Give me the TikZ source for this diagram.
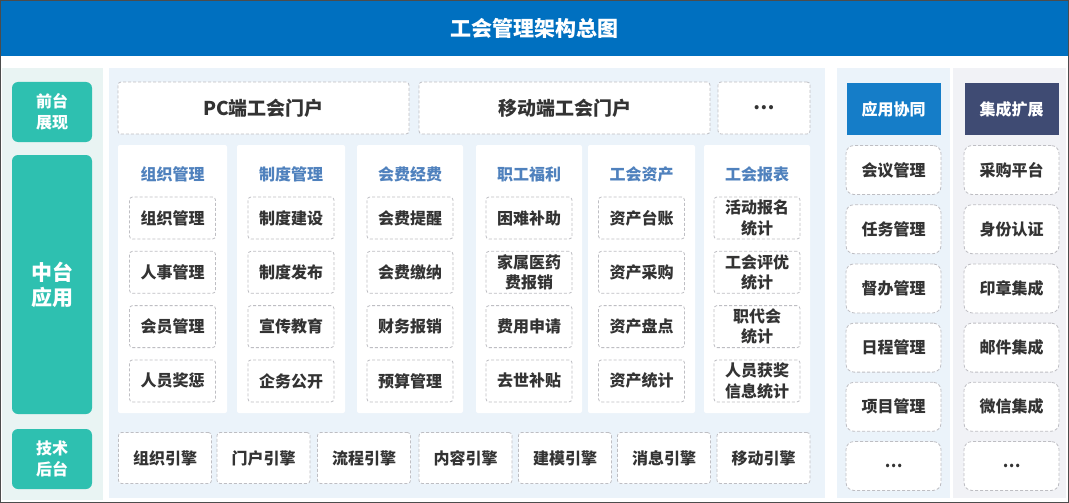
\documentclass[tikz,border=0pt]{standalone}
\usepackage{fontspec}
\setmainfont{Noto Sans CJK SC}
\usetikzlibrary{positioning}
\definecolor{titleblue}{RGB}{0,112,192}
\definecolor{tagteal}{RGB}{46,192,176}
\definecolor{leftbg}{RGB}{233,244,243}
\definecolor{mainbg}{RGB}{235,243,250}
\definecolor{sidebg}{RGB}{241,242,246}
\definecolor{headblue}{RGB}{79,129,189}
\definecolor{appblue}{RGB}{21,125,200}
\definecolor{extslate}{RGB}{63,75,115}
\definecolor{dashgray}{RGB}{190,190,195}
\definecolor{txt}{RGB}{51,51,51}

\begin{document}
\begin{tikzpicture}[x=1pt,y=-1pt,
    every node/.style={font=\bfseries, text=txt, inner sep=0pt},
    item/.style={draw=dashgray, fill=white, dash pattern=on 3pt off 2pt,
        line width=0.8pt, rounded corners=3pt, align=center,
        minimum width=86pt, minimum height=42pt,
        font=\bfseries\fontsize{16}{20.5}\selectfont},
    engine/.style={item, minimum width=93pt, minimum height=51pt,
        font=\bfseries\fontsize{16}{19}\selectfont},
    portal/.style={item, minimum height=52pt, font=\bfseries\fontsize{19}{22}\selectfont},
    sidebox/.style={item, minimum width=95pt, minimum height=49pt,
        rounded corners=8pt, font=\bfseries\fontsize{16}{19}\selectfont},
    card/.style={fill=white, rounded corners=2pt, minimum height=268pt},
    cardhead/.style={text=headblue, font=\bfseries\fontsize{16}{19}\selectfont},
    tag/.style={fill=tagteal, text=white, rounded corners=6pt, align=center,
        minimum width=80pt, font=\bfseries\fontsize{16}{21}\selectfont},
    sidehead/.style={text=white, minimum width=94pt, minimum height=52pt,
        font=\bfseries\fontsize{16}{19}\selectfont},
]
\useasboundingbox (0,0) rectangle (1069,503);
\fill[white] (0,0) rectangle (1069,503);

% title bar
\node[fill=titleblue, minimum width=1069pt, minimum height=56pt, text=white,
    font=\bfseries\fontsize{21}{24}\selectfont] (title) at (534.5,28) {工会管理架构总图};

% panels
\fill[leftbg] (2,68) rectangle (103,500);
\fill[mainbg] (109,68) rectangle (825,498);
\fill[mainbg] (837,68) rectangle (950,498);
\fill[sidebg] (953,68) rectangle (1066,498);

% layer tags
\node[tag, minimum height=60pt] (front) at (52,112) {前台\\展现};
\node[tag, minimum height=259pt, font=\bfseries\fontsize{21}{25}\selectfont] (middle) at (52,284.5) {中台\\应用};
\node[tag, minimum height=60pt] (back) at (52,459) {技术\\后台};

% portals
\node[portal, minimum width=291pt] (pc) at (263.5,108) {PC端工会门户};
\node[portal, minimum width=291pt] (mobile) at (564.5,108) {移动端工会门户};
\node[portal, minimum width=92pt] (more) at (764,108) {…};

% business columns
\foreach \cx/\cw/\hd/\lst [count=\i] in {
    172.5/109/组织管理/{组织管理,人事管理,会员管理,人员奖惩},
    291/108/制度管理/{制度建设,制度发布,宣传教育,企务公开},
    410/106/会费经费/{会费提醒,会费缴纳,财务报销,预算管理},
    529/106/职工福利/{困难补助,{家属医药\\费报销},费用申请,去世补贴},
    641.5/107/工会资产/{资产台账,资产采购,资产盘点,资产统计},
    757/106/工会报表/{{活动报名\\统计},{工会评优\\统计},{职代会\\统计},{人员获奖\\信息统计}}}{
  \node[card, minimum width=\cw pt] (card\i) at (\cx,279) {};
  \node[cardhead] (head\i) at (\cx,174) {\hd};
  \foreach \t [count=\j] in \lst
    \node[item] (item\i-\j) at (\cx,{163.7+54.3*\j}) {\t};
}

% engines
\foreach \cx/\t [count=\k] in {165/组织引擎,263.5/门户引擎,364/流程引擎,
    465.5/内容引擎,565/建模引擎,664/消息引擎,763.5/移动引擎}
  \node[engine] (eng\k) at (\cx,458) {\t};

% side columns
\node[sidehead, fill=appblue] (apphead) at (893.5,109) {应用协同};
\node[sidehead, fill=extslate] (exthead) at (1011.5,109) {集成扩展};
\foreach \t [count=\j] in {会议管理,任务管理,督办管理,日程管理,项目管理,…}
  \node[sidebox] (app\j) at (893.5,{170+59.2*(\j-1)}) {\t};
\foreach \t [count=\j] in {采购平台,身份认证,印章集成,邮件集成,微信集成,…}
  \node[sidebox] (ext\j) at (1011.5,{170+59.2*(\j-1)}) {\t};

% frame
\draw[gray!60!black, line width=1pt] (0.5,0.5) rectangle (1068.5,502.5);
\end{tikzpicture}
\end{document}
